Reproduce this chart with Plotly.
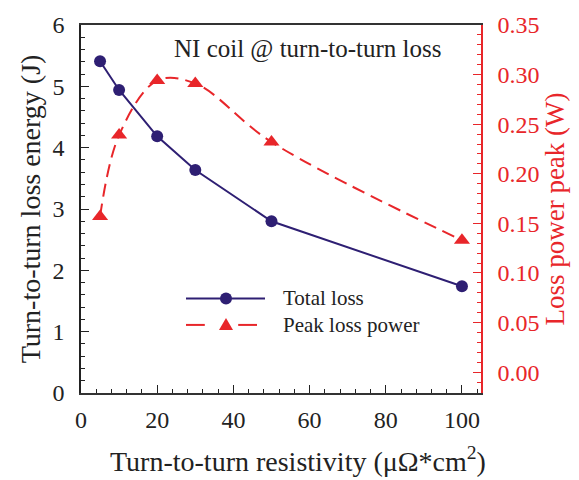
import plotly.graph_objects as go

# Turn-to-turn resistivity (uOhm*cm^2)
resistivity = [5, 10, 20, 30, 50, 100]
# Total turn-to-turn loss energy (J)
total_loss = [5.41, 4.94, 4.185, 3.635, 2.80, 1.74]
# Peak loss power (W)
peak_power = [0.157, 0.239, 0.294, 0.291, 0.232, 0.133]

x_ticks = [0, 20, 40, 60, 80, 100]
y_ticks = [0, 1, 2, 3, 4, 5, 6]
y2_ticks = [0.00, 0.05, 0.10, 0.15, 0.20, 0.25, 0.30, 0.35]

BLUE = "#2E1F73"
RED = "#E8262A"
FONT = "Liberation Serif, Times New Roman, serif"

fig = go.Figure()

fig.add_trace(go.Scatter(
    x=resistivity, y=total_loss, name="Total loss",
    mode="lines+markers",
    line=dict(color=BLUE, width=2),
    marker=dict(symbol="circle", size=12, color=BLUE),
    showlegend=False,
))
fig.add_trace(go.Scatter(
    x=resistivity, y=peak_power, name="Peak loss power", yaxis="y2",
    mode="lines+markers",
    line=dict(color=RED, width=2, dash="13px,7px", shape="spline", smoothing=1.0),
    marker=dict(symbol="triangle-up", size=14, color=RED),
    showlegend=False,
))

# Hand-drawn legend: long line samples with a marker in the middle
L_X0, L_X1, L_XM = 0.2625, 0.46, 0.3625
ROW1, ROW2 = 0.257, 0.185
shapes = [
    dict(type="line", xref="paper", yref="paper", x0=L_X0, x1=L_X1, y0=ROW1, y1=ROW1,
         line=dict(color=BLUE, width=2)),
    dict(type="circle", xref="paper", yref="paper", xsizemode="pixel", ysizemode="pixel",
         xanchor=L_XM, yanchor=ROW1, x0=-6, x1=6, y0=-6, y1=6,
         fillcolor=BLUE, line=dict(color=BLUE, width=0)),
    dict(type="line", xref="paper", yref="paper", x0=L_X0, x1=L_X0 + 0.047, y0=ROW2, y1=ROW2,
         line=dict(color=RED, width=2)),
    dict(type="line", xref="paper", yref="paper", x0=L_X1 - 0.067, x1=L_X1 - 0.02, y0=ROW2, y1=ROW2,
         line=dict(color=RED, width=2)),
    dict(type="path", xref="paper", yref="paper", xsizemode="pixel", ysizemode="pixel",
         xanchor=L_XM, yanchor=ROW2, path="M-7,-5 L7,-5 L0,7 Z",
         fillcolor=RED, line=dict(color=RED, width=0)),
]

annotations = [
    dict(text="NI coil @ turn-to-turn loss", xref="paper", yref="paper",
         x=0.2275, y=0.935, xanchor="left", yanchor="middle", showarrow=False,
         font=dict(family=FONT, size=25, color="#222222")),
    dict(text="Total loss", xref="paper", yref="paper",
         x=0.50, y=ROW1, xanchor="left", yanchor="middle", showarrow=False,
         font=dict(family=FONT, size=21, color="#222222")),
    dict(text="Peak loss power", xref="paper", yref="paper",
         x=0.50, y=ROW2, xanchor="left", yanchor="middle", showarrow=False,
         font=dict(family=FONT, size=21, color="#222222")),
    # x-axis title
    dict(text="Turn-to-turn resistivity (μΩ*cm<sup>2</sup>)", xref="paper", yref="paper",
         x=0.5425, y=-0.18, xanchor="center", yanchor="middle", showarrow=False,
         font=dict(family=FONT, size=28, color="#222222")),
]

fig.update_layout(
    width=579, height=480,
    margin=dict(l=81, r=98, t=15, b=87),
    paper_bgcolor="white", plot_bgcolor="white",
    font=dict(family=FONT, size=24, color="#222222"),
    shapes=shapes,
    annotations=annotations,
    xaxis=dict(
        range=[0, 105], tickvals=x_ticks, ticks="inside", ticklen=8, tickwidth=1.2,
        tickcolor="#222222", showline=True, linecolor="#333333", linewidth=1.5, mirror=True,
        showgrid=False, zeroline=False,
        minor=dict(dtick=4, ticks="inside", ticklen=4, tickcolor="#222222", showgrid=False),
        ticklabelstandoff=4,
    ),
    yaxis=dict(
        range=[0, 6], tickvals=y_ticks, ticks="inside", ticklen=8, tickwidth=1.2,
        tickcolor="#222222", showline=True, linecolor="#222222", linewidth=1.5,
        showgrid=False, zeroline=False,
        minor=dict(dtick=0.2, ticks="inside", ticklen=4, tickcolor="#222222", showgrid=False),
        title=dict(text="Turn-to-turn loss energy (J)", standoff=4, font=dict(size=28)),
        ticklabelstandoff=10,
    ),
    yaxis2=dict(
        overlaying="y", side="right", range=[-0.021, 0.35], tickvals=y2_ticks,
        tickformat=".2f", ticks="inside", ticklen=8, tickwidth=1.2, tickcolor=RED,
        showline=True, linecolor=RED, linewidth=1.5, showgrid=False, zeroline=False,
        tickfont=dict(color=RED),
        minor=dict(dtick=0.01, ticks="inside", ticklen=4, tickcolor=RED, showgrid=False),
        title=dict(text="Loss power peak (W)", font=dict(color=RED, size=27), standoff=2),
        ticklabelstandoff=10,
    ),
)

fig.write_html("out.html")
